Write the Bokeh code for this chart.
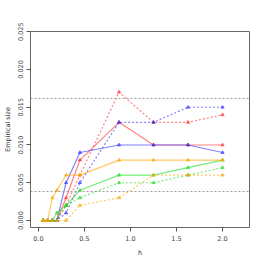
from bokeh.plotting import figure
from bokeh.models import Range1d, FixedTicker, PrintfTickFormatter, Span
from bokeh.embed import file_html
from bokeh.resources import INLINE

h = [0.05, 0.1, 0.15, 0.2, 0.3, 0.45, 0.875, 1.25, 1.625, 2.0]

red_solid = [0, 0, 0, 0, 0.003, 0.008, 0.013, 0.010, 0.010, 0.010]
red_dashed = [0, 0, 0, 0, 0.002, 0.006, 0.017, 0.013, 0.013, 0.014]
blue_solid = [0, 0, 0, 0, 0.005, 0.009, 0.010, 0.010, 0.010, 0.009]
blue_dashed = [0, 0, 0, 0, 0.001, 0.005, 0.013, 0.013, 0.015, 0.015]
green_solid = [0, 0, 0, 0.001, 0.002, 0.004, 0.006, 0.006, 0.007, 0.008]
green_dashed = [0, 0, 0, 0, 0.002, 0.003, 0.005, 0.005, 0.006, 0.007]
orange_solid = [0, 0, 0.003, 0.004, 0.006, 0.006, 0.008, 0.008, 0.008, 0.008]
orange_dashed = [0, 0, 0, 0, 0, 0.002, 0.003, 0.006, 0.006, 0.006]

bounds = [0.00383, 0.01617]
x_ticks = [0.0, 0.5, 1.0, 1.5, 2.0]
y_ticks = [0.0, 0.005, 0.010, 0.015, 0.020, 0.025]

p = figure(frame_width=219, frame_height=196, output_backend="svg", toolbar_location=None,
           x_range=Range1d(-0.087, 2.293), y_range=Range1d(-0.00093, 0.02503),
           min_border_left=23, min_border_right=8, min_border_top=31, min_border_bottom=20)
p.xgrid.visible = False
p.ygrid.visible = False
p.outline_line_color = "#666666"
p.outline_line_width = 1

for b in bounds:
    p.add_layout(Span(location=b, dimension="width", line_color="#999999",
                      line_dash="2 2", line_width=1))

series = [
    (red_solid, "#FF3030", "solid"),
    (red_dashed, "#FF3030", "2 2"),
    (blue_solid, "#3030FF", "solid"),
    (blue_dashed, "#3030FF", "2 2"),
    (green_solid, "#20DD20", "solid"),
    (green_dashed, "#20DD20", "2 2"),
    (orange_solid, "#FFA500", "solid"),
    (orange_dashed, "#FFA500", "2 2"),
]
for ys, col, dash in series:
    p.line(h, ys, line_color=col, line_alpha=0.6, line_width=1.2, line_dash=dash)
    p.scatter(h, ys, marker="triangle", size=3.2, line_color=col, fill_color=col,
              alpha=0.6)

for ax in (p.xaxis[0], p.yaxis[0]):
    ax.axis_line_color = None
    ax.major_tick_line_color = "#555555"
    ax.major_tick_out = 4
    ax.major_tick_in = 0
    ax.minor_tick_line_color = None
    ax.major_label_text_font = "DejaVu Sans"
    ax.major_label_text_font_size = "6.5px"
    ax.major_label_text_color = "#444444"
    ax.axis_label_text_font = "DejaVu Sans"
    ax.axis_label_text_font_size = "6.5px"
    ax.axis_label_text_font_style = "normal"
    ax.axis_label_text_color = "#333333"

p.xaxis.ticker = FixedTicker(ticks=x_ticks)
p.xaxis.formatter = PrintfTickFormatter(format="%.1f")
p.xaxis.major_label_standoff = 4
p.xaxis.axis_label = "h"
p.xaxis.axis_label_standoff = 5

p.yaxis.ticker = FixedTicker(ticks=y_ticks)
p.yaxis.formatter = PrintfTickFormatter(format="%.3f")
p.yaxis.major_label_orientation = "vertical"
p.yaxis.major_label_standoff = 3
p.yaxis.axis_label = "Empirical size"
p.yaxis.axis_label_standoff = 4

open("out.html", "w").write(file_html(p, INLINE))
